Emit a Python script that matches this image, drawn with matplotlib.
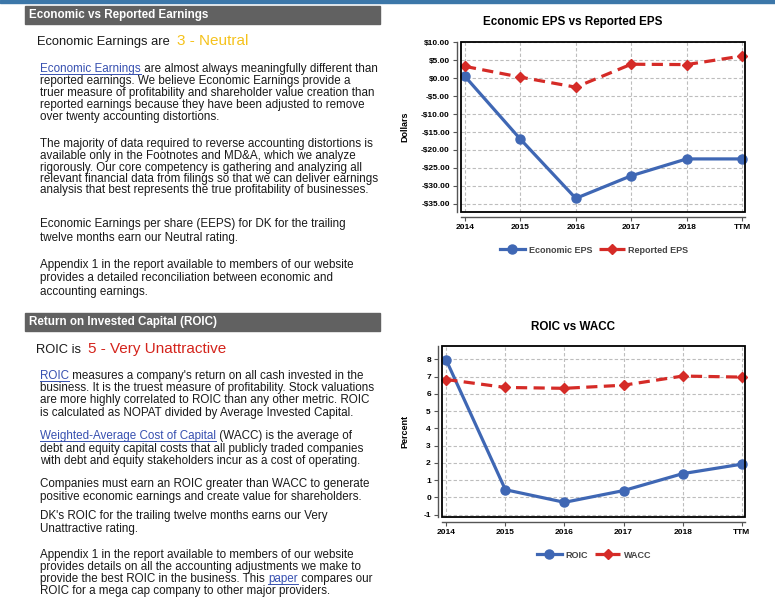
import matplotlib.pyplot as plt
from matplotlib.patches import Rectangle
from matplotlib.lines import Line2D
from matplotlib.ticker import FuncFormatter

W, H = 775, 600

years = ["2014", "2015", "2016", "2017", "2018", "TTM"]
economic_eps = [0.5, -17.0, -33.5, -27.2, -22.5, -22.5]
reported_eps = [3.3, 0.3, -2.5, 3.9, 3.8, 6.2]
roic = [7.95, 0.45, -0.28, 0.40, 1.38, 1.93]
wacc = [6.83, 6.37, 6.32, 6.50, 7.03, 6.97]

BLUE = "#3f67b4"
RED = "#d52b27"
LINK = "#3750b0"
TXT = "#1a1a1a"
BODY = 8.4

plt.rcParams["font.family"] = ["Liberation Sans", "DejaVu Sans"]

fig = plt.figure(figsize=(7.75, 6), dpi=100)
r = fig.canvas.get_renderer()


def fx(x):
    return x / W


def fy(y):
    return 1 - y / H


def put_line(x, y, parts):
    # parts: (text, color, size, link); y is the baseline in pixels
    cx = x
    for txt, col, size, link in parts:
        t = fig.text(fx(cx), fy(y), txt, color=col, fontsize=size,
                     ha="left", va="baseline")
        w = t.get_window_extent(r).width
        if link:
            fig.add_artist(Line2D([fx(cx), fx(cx + w)], [fy(y + 1.5)] * 2,
                                  color=col, lw=0.7, transform=fig.transFigure))
        cx += w


def body(x, y, text):
    put_line(x, y, [(text, TXT, BODY, False)])


def header(top, text):
    fig.patches.append(Rectangle((fx(25), fy(top + 18)), 355 / W, 18 / H,
                                 transform=fig.transFigure, color="#616161"))
    fig.text(fx(29), fy(top + 9), text, color="white", fontsize=8.4,
             fontweight="bold", ha="left", va="center")


# top blue rule
fig.patches.append(Rectangle((0, fy(3)), 1, 3 / H, transform=fig.transFigure,
                             color="#3c77a9"))

# ---- section 1 text
header(6, "Economic vs Reported Earnings")
put_line(37, 45, [("Economic Earnings are  ", TXT, 9.3, False),
                  ("3 - Neutral", "#f5c21c", 11, False)])
put_line(40, 72, [("Economic Earnings", LINK, BODY, True),
                  (" are almost always meaningfully different than", TXT, BODY, False)])
s1 = [
    (84, "reported earnings. We believe Economic Earnings provide a"),
    (96, "truer measure of profitability and shareholder value creation than"),
    (108, "reported earnings because they have been adjusted to remove"),
    (120, "over twenty accounting distortions."),
    (147, "The majority of data required to reverse accounting distortions is"),
    (159, "available only in the Footnotes and MD&A, which we analyze"),
    (171, "rigorously. Our core competency is gathering and analyzing all"),
    (182, "relevant financial data from filings so that we can deliver earnings"),
    (193, "analysis that best represents the true profitability of businesses."),
    (227, "Economic Earnings per share (EEPS) for DK for the trailing"),
    (241, "twelve months earn our Neutral rating."),
    (268, "Appendix 1 in the report available to members of our website"),
    (281, "provides a detailed reconciliation between economic and"),
    (295, "accounting earnings."),
]
for y, t in s1:
    body(40, y, t)

# ---- section 2 text
header(313, "Return on Invested Capital (ROIC)")
put_line(36, 353, [("ROIC is  ", TXT, 9.3, False),
                   ("5 - Very Unattractive", "#d4241c", 11, False)])
put_line(40, 379, [("ROIC", LINK, BODY, True),
                   (" measures a company's return on all cash invested in the", TXT, BODY, False)])
put_line(40, 439, [("Weighted-Average Cost of Capital", LINK, BODY, True),
                   (" (WACC) is the average of", TXT, BODY, False)])
put_line(40, 582, [("provide the best ROIC in the business. This ", TXT, BODY, False),
                   ("paper", LINK, BODY, True),
                   (" compares our", TXT, BODY, False)])
s2 = [
    (391, "business. It is the truest measure of profitability. Stock valuations"),
    (403, "are more highly correlated to ROIC than any other metric. ROIC"),
    (416, "is calculated as NOPAT divided by Average Invested Capital."),
    (452, "debt and equity capital costs that all publicly traded companies"),
    (464, "with debt and equity stakeholders incur as a cost of operating."),
    (487, "Companies must earn an ROIC greater than WACC to generate"),
    (500, "positive economic earnings and create value for shareholders."),
    (519, "DK's ROIC for the trailing twelve months earns our Very"),
    (532, "Unattractive rating."),
    (558, "Appendix 1 in the report available to members of our website"),
    (570, "provides details on all the accounting adjustments we make to"),
    (594, "ROIC for a mega cap company to other major providers."),
]
for y, t in s2:
    body(40, y, t)


# ---- charts
def chart(box, s1, s2, lab1, lab2, ylim, yticks, fmt, ylabel, title, title_y, leg_y):
    l, t, rr, b = box
    ax = fig.add_axes([fx(l), fy(b), (rr - l) / W, (b - t) / H])
    x = list(range(len(years)))
    ax.plot(x, s1, color=BLUE, lw=2.3, marker="o", ms=6.5, label=lab1, clip_on=False, zorder=3)
    ax.plot(x, s2, color=RED, lw=2.3, ls=(0, (3.5, 2)), marker="D", ms=4.8,
            label=lab2, clip_on=False, zorder=3)
    ax.set_xlim(-0.072, 5.054)
    ax.set_ylim(*ylim)
    ax.set_xticks(x)
    ax.set_xticklabels(years)
    ax.set_yticks(yticks)
    ax.yaxis.set_major_formatter(FuncFormatter(fmt))
    ax.grid(True, ls=(0, (3, 2)), color="#bdbdbd", lw=0.8)
    ax.set_axisbelow(True)
    for s in ["top", "right"]:
        ax.spines[s].set_visible(False)
    ax.spines["left"].set_position(("outward", 3))
    ax.spines["bottom"].set_position(("outward", 3.6))
    for s in ["left", "bottom"]:
        ax.spines[s].set_color("#555555")
        ax.spines[s].set_linewidth(1.0)
    ax.add_patch(Rectangle((0, 0), 1, 1, transform=ax.transAxes, fill=False,
                           ec="black", lw=1.3, clip_on=False, zorder=4))
    ax.tick_params(length=3, color="#555555", labelsize=6, pad=2)
    for lab in ax.get_xticklabels() + ax.get_yticklabels():
        lab.set_fontweight("bold")
    fig.text(fx(405), fy((t + b) / 2), ylabel, rotation=90, fontsize=6.5,
             fontweight="bold", ha="center", va="center")
    fig.text(fx(573), fy(title_y), title, fontsize=8.4, fontweight="bold",
             ha="center", va="center")
    fig.legend(*ax.get_legend_handles_labels(), loc="center",
               bbox_to_anchor=(fx(594), fy(leg_y)), ncol=2, frameon=False,
               prop={"size": 6.5, "weight": "bold"}, labelcolor="#444444",
               handlelength=2.8, handletextpad=0.4, columnspacing=0.8)
    return ax


def dollars(v, pos):
    return f"-${abs(v):.2f}" if v < 0 else f"${v:.2f}"


chart((461, 42, 745, 212), economic_eps, reported_eps, "Economic EPS", "Reported EPS",
      (-37.3, 10.1), [10, 5, 0, -5, -10, -15, -20, -25, -30, -35], dollars,
      "Dollars", "Economic EPS vs Reported EPS", 22, 250)

chart((442, 346, 745, 517), roic, wacc, "ROIC", "WACC",
      (-1.13, 8.77), list(range(-1, 9)), lambda v, p: f"{v:.0f}",
      "Percent", "ROIC vs WACC", 327, 555)

fig.savefig("out.png", dpi=100)
